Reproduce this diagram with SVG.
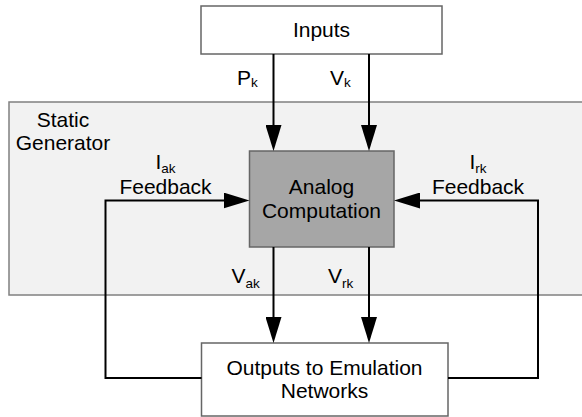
<svg xmlns="http://www.w3.org/2000/svg" width="582" height="417" viewBox="0 0 582 417">
  <style>
    text { font-family: "Liberation Sans", Arial, sans-serif; font-size: 21px; fill: #000; }
    .mid { text-anchor: middle; }
    .sub { font-size: 13.5px; }
    .box { fill: #ffffff; stroke: #666666; stroke-width: 1.5; }
    .core { fill: #a6a6a6; stroke: #666666; stroke-width: 1.5; }
    .region { fill: #f2f2f2; stroke: #808080; stroke-width: 1.5; }
    .wire { fill: none; stroke: #000; stroke-width: 2; }
  </style>
  <defs>
    <marker id="arrow" markerUnits="userSpaceOnUse" markerWidth="26" markerHeight="16" refX="16" refY="8" orient="auto">
      <path d="M0,0 L26,8 L0,16 z" fill="#000"/>
    </marker>
  </defs>

  <!-- enclosing static generator region -->
  <g id="static-generator">
    <rect class="region" x="9" y="102" width="580" height="193"/>
    <text class="mid" x="63" y="127">Static</text>
    <text class="mid" x="63" y="150">Generator</text>
  </g>

  <g id="inputs">
    <rect class="box" x="201" y="6" width="241" height="48"/>
    <text class="mid" x="321.5" y="37">Inputs</text>
  </g>

  <g id="analog-computation">
    <rect class="core" x="249.5" y="151" width="144.5" height="96"/>
    <text class="mid" x="321.5" y="194">Analog</text>
    <text class="mid" x="321.5" y="218">Computation</text>
  </g>

  <g id="outputs">
    <rect class="box" x="201.5" y="343" width="246.5" height="73"/>
    <text class="mid" x="324.5" y="375">Outputs to Emulation</text>
    <text class="mid" x="324.5" y="398">Networks</text>
  </g>

  <g id="connectors">
    <path class="wire" d="M273.5,54 V141" marker-end="url(#arrow)"/>
    <path class="wire" d="M369,54 V141" marker-end="url(#arrow)"/>
    <path class="wire" d="M273.5,247 V333" marker-end="url(#arrow)"/>
    <path class="wire" d="M369,247 V333" marker-end="url(#arrow)"/>
    <path class="wire" d="M201.5,378 H105.5 V200.5 H239.5" marker-end="url(#arrow)"/>
    <path class="wire" d="M448,378 H538 V200.5 H404" marker-end="url(#arrow)"/>
  </g>

  <g id="labels">
    <text x="237" y="85">P<tspan class="sub" dy="2">k</tspan></text>
    <text x="330" y="85">V<tspan class="sub" dy="2">k</tspan></text>
    <text x="231.5" y="283">V<tspan class="sub" dy="5">ak</tspan></text>
    <text x="328" y="283">V<tspan class="sub" dy="5">rk</tspan></text>
    <text x="155.5" y="169">I<tspan class="sub" dy="4">ak</tspan></text>
    <text class="mid" x="165.5" y="194">Feedback</text>
    <text x="469.5" y="169">I<tspan class="sub" dy="4">rk</tspan></text>
    <text class="mid" x="478" y="194">Feedback</text>
  </g>
</svg>
